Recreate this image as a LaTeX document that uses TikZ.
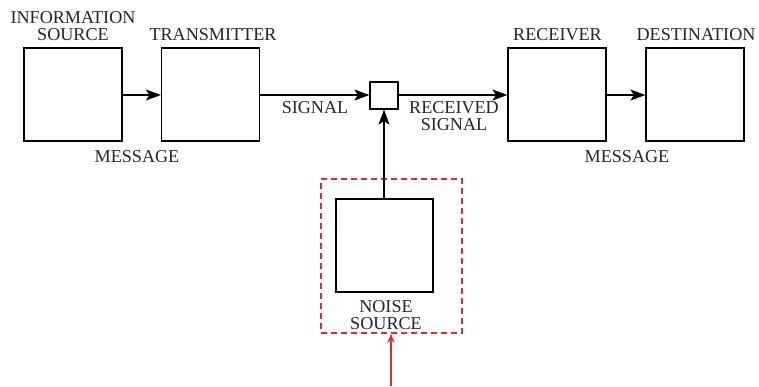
\documentclass[tikz,border=0pt]{standalone}
\usepackage{fontspec}
\setmainfont{Liberation Serif}
\usetikzlibrary{arrows.meta}
\begin{document}
\begin{tikzpicture}[x=1bp,y=-1bp,
  blk/.style={draw=black,line width=1.2bp,inner sep=0pt,minimum width=98bp,minimum height=93bp},
  lbl/.style={font=\fontsize{18.2}{18}\selectfont,text=black!85,inner sep=0pt,align=center},
  arr/.style={line width=1.1bp,-{Stealth[length=15bp,width=11bp,inset=3.5bp]}},
  redc/.style={draw={rgb,255:red,232;green,40;blue,48}}
]
\useasboundingbox (0,0) rectangle (759,386);
\fill[white] (0,0) rectangle (759,386);
\node[blk] (is) at (73,94.5) {};
\node[blk] (tx) at (210.5,94.5) {};
\node[draw=black,line width=1.2bp,inner sep=0pt,minimum width=28bp,minimum height=27bp] (mix) at (384,95.5) {};
\node[blk] (rx) at (557,94.5) {};
\node[blk] (dst) at (695,94.5) {};
\node[blk,minimum width=97bp,minimum height=93bp] (ns) at (384.5,245.5) {};
\node[redc,dashed,line width=1.5bp,dash pattern=on 6bp off 4bp,inner sep=0pt,minimum width=141bp,minimum height=154bp] (nbox) at (391.5,256) {};
\coordinate (rin) at (391,386);

\node[lbl] (l1) at (73,26) {INFORMATION\\[-1pt]SOURCE};
\node[lbl] (l2) at (213,35) {TRANSMITTER};
\node[lbl] (l3) at (137,157) {MESSAGE};
\node[lbl] (l4) at (315,108) {SIGNAL};
\node[lbl] (l5) at (454,116) {RECEIVED\\[-1pt]SIGNAL};
\node[lbl] (l6) at (557.5,35) {RECEIVER};
\node[lbl] (l7) at (696,35) {DESTINATION};
\node[lbl] (l8) at (627,157) {MESSAGE};
\node[lbl] (l9) at (386,315) {NOISE\\[-1pt]SOURCE};

\draw[arr] (is.east |- 0,95) -- (tx.west |- 0,95);
\draw[arr] (tx.east |- 0,95) -- (mix.west |- 0,95);
\draw[arr] (mix.east |- 0,95) -- (rx.west |- 0,95);
\draw[arr] (rx.east |- 0,95) -- (dst.west |- 0,95);
\draw[arr] (ns.north -| 384,0) -- (mix.south);
\draw[redc,line width=1.2bp,-{Stealth[length=9bp,width=7bp]}] (rin) -- (nbox.south -| rin);
\end{tikzpicture}
\end{document}
